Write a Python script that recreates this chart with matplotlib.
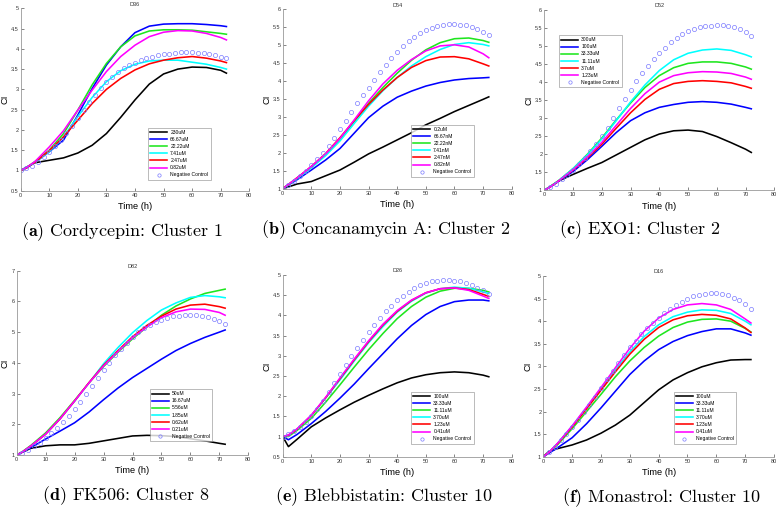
import matplotlib
matplotlib.use("Agg")
import matplotlib.pyplot as plt
from matplotlib.ticker import FormatStrFormatter, MultipleLocator

plt.rcParams['font.family'] = 'Liberation Sans'
plt.rcParams['mathtext.fontset'] = 'cm'

# sampling times (h) of the drug curves and of the negative control
hours = [0, 2, 5, 10, 15, 20, 25, 30, 35, 40, 45, 50, 55, 60, 65, 70, 72]
control_hours = list(range(0, 73, 2))

# (a) Cordycepin, D36
cordycepin_doses = ['230uM', '66.67uM', '22.22uM', '7.41uM', '2.47uM', '0.82uM']
cordycepin_ci = [
    [1.0, 1.08, 1.19, 1.25, 1.31, 1.43, 1.62, 1.91, 2.31, 2.74, 3.13, 3.38, 3.50, 3.55, 3.54, 3.47, 3.40],
    [1.0, 1.06, 1.20, 1.46, 1.75, 2.37, 3.02, 3.60, 4.05, 4.40, 4.56, 4.61, 4.62, 4.62, 4.60, 4.57, 4.55],
    [1.0, 1.07, 1.22, 1.50, 1.91, 2.49, 3.11, 3.64, 4.05, 4.32, 4.44, 4.47, 4.47, 4.46, 4.42, 4.38, 4.36],
    [1.0, 1.06, 1.20, 1.46, 1.83, 2.33, 2.80, 3.19, 3.46, 3.62, 3.70, 3.72, 3.72, 3.67, 3.62, 3.54, 3.50],
    [1.0, 1.06, 1.20, 1.49, 1.83, 2.24, 2.65, 3.00, 3.27, 3.48, 3.63, 3.72, 3.78, 3.81, 3.77, 3.70, 3.66],
    [1.0, 1.07, 1.22, 1.58, 1.98, 2.49, 2.98, 3.44, 3.81, 4.09, 4.30, 4.41, 4.45, 4.44, 4.38, 4.28, 4.22],
]
cordycepin_nc = [1.0, 1.05, 1.12, 1.22, 1.33, 1.45, 1.6, 1.75, 1.92, 2.1, 2.3, 2.49, 2.68, 2.86, 3.03, 3.18,
                 3.31, 3.42, 3.52, 3.6, 3.66, 3.72, 3.77, 3.81, 3.84, 3.87, 3.88, 3.9, 3.91, 3.91, 3.91, 3.9,
                 3.89, 3.87, 3.84, 3.81, 3.77]

# (b) Concanamycin A, D54
concanamycin_doses = ['0.2uM', '66.67nM', '22.22nM', '7.41nM', '2.47nM', '0.82nM']
concanamycin_ci = [
    [1.0, 1.05, 1.13, 1.20, 1.36, 1.52, 1.74, 1.97, 2.16, 2.36, 2.56, 2.78, 2.96, 3.15, 3.32, 3.49, 3.56],
    [1.0, 1.10, 1.25, 1.52, 1.80, 2.12, 2.55, 2.98, 3.30, 3.55, 3.72, 3.86, 3.96, 4.03, 4.07, 4.09, 4.10],
    [1.0, 1.11, 1.30, 1.60, 1.95, 2.38, 2.88, 3.38, 3.82, 4.22, 4.58, 4.87, 5.07, 5.18, 5.20, 5.13, 5.08],
    [1.0, 1.11, 1.28, 1.58, 1.92, 2.33, 2.82, 3.30, 3.73, 4.10, 4.42, 4.68, 4.88, 5.02, 5.07, 5.02, 4.98],
    [1.0, 1.12, 1.30, 1.62, 1.98, 2.42, 2.90, 3.35, 3.75, 4.10, 4.38, 4.57, 4.67, 4.68, 4.62, 4.48, 4.42],
    [1.0, 1.12, 1.30, 1.62, 1.97, 2.40, 2.92, 3.45, 3.92, 4.30, 4.60, 4.84, 4.98, 5.01, 4.95, 4.76, 4.65],
]
concanamycin_nc = [1.0, 1.1, 1.22, 1.35, 1.5, 1.65, 1.82, 2.0, 2.2, 2.42, 2.65, 2.9, 3.14, 3.38, 3.6, 3.82,
                   4.04, 4.25, 4.45, 4.64, 4.82, 4.97, 5.11, 5.23, 5.34, 5.42, 5.49, 5.54, 5.57, 5.58, 5.58,
                   5.57, 5.55, 5.51, 5.45, 5.38, 5.29]

# (c) EXO1, D52
exo1_doses = ['300uM', '100uM', '33.33uM', '11.11uM', '3.7uM', '1.23uM']
exo1_ci = [
    [1.0, 1.10, 1.26, 1.44, 1.61, 1.77, 1.98, 2.19, 2.40, 2.56, 2.65, 2.67, 2.63, 2.49, 2.32, 2.14, 2.05],
    [1.0, 1.09, 1.25, 1.52, 1.85, 2.22, 2.60, 2.93, 3.15, 3.30, 3.38, 3.44, 3.46, 3.44, 3.39, 3.30, 3.26],
    [1.0, 1.10, 1.27, 1.60, 2.00, 2.45, 2.95, 3.42, 3.85, 4.18, 4.40, 4.52, 4.56, 4.56, 4.52, 4.42, 4.36],
    [1.0, 1.10, 1.27, 1.60, 1.98, 2.42, 2.93, 3.45, 3.92, 4.32, 4.62, 4.80, 4.89, 4.92, 4.88, 4.76, 4.70],
    [1.0, 1.09, 1.26, 1.56, 1.90, 2.28, 2.72, 3.15, 3.52, 3.80, 3.96, 4.02, 4.04, 4.02, 3.98, 3.88, 3.83],
    [1.0, 1.09, 1.26, 1.57, 1.93, 2.33, 2.80, 3.27, 3.68, 4.00, 4.18, 4.26, 4.29, 4.28, 4.24, 4.14, 4.08],
]
exo1_nc = [1.0, 1.08, 1.18, 1.3, 1.43, 1.57, 1.73, 1.9, 2.08, 2.28, 2.5, 2.74, 3.0, 3.27, 3.53, 3.78, 4.02,
           4.24, 4.45, 4.64, 4.81, 4.96, 5.1, 5.22, 5.33, 5.42, 5.48, 5.52, 5.55, 5.57, 5.58, 5.58, 5.56,
           5.52, 5.46, 5.38, 5.28]

# (d) FK506, D82
fk506_doses = ['50uM', '16.67uM', '5.56uM', '1.85uM', '0.62uM', '0.21uM']
fk506_ci = [
    [1.0, 1.10, 1.22, 1.30, 1.33, 1.33, 1.38, 1.46, 1.54, 1.62, 1.64, 1.63, 1.60, 1.53, 1.46, 1.38, 1.35],
    [1.0, 1.09, 1.25, 1.52, 1.78, 2.05, 2.40, 2.80, 3.18, 3.52, 3.82, 4.12, 4.40, 4.63, 4.83, 5.00, 5.07],
    [1.0, 1.11, 1.32, 1.72, 2.22, 2.78, 3.35, 3.88, 4.35, 4.78, 5.17, 5.55, 5.85, 6.08, 6.26, 6.36, 6.40],
    [1.0, 1.10, 1.30, 1.68, 2.18, 2.75, 3.35, 3.97, 4.50, 4.98, 5.38, 5.72, 5.95, 6.13, 6.19, 6.15, 6.12],
    [1.0, 1.10, 1.30, 1.68, 2.18, 2.76, 3.36, 3.92, 4.40, 4.85, 5.22, 5.52, 5.75, 5.88, 5.91, 5.83, 5.78],
    [1.0, 1.10, 1.30, 1.68, 2.18, 2.76, 3.35, 3.90, 4.37, 4.82, 5.17, 5.47, 5.66, 5.75, 5.74, 5.64, 5.55],
]
fk506_nc = [1.0, 1.08, 1.17, 1.28, 1.4, 1.55, 1.7, 1.88, 2.07, 2.28, 2.5, 2.73, 2.98, 3.24, 3.5, 3.76, 4.0,
            4.24, 4.46, 4.66, 4.84, 4.99, 5.12, 5.24, 5.33, 5.41, 5.47, 5.51, 5.54, 5.56, 5.57, 5.56, 5.54,
            5.5, 5.44, 5.37, 5.27]

# (e) Blebbistatin, D26
blebbistatin_doses = ['100uM', '33.33uM', '11.11uM', '3.70uM', '1.23uM', '0.41uM']
blebbistatin_ci = [
    [1.0, 0.75, 0.93, 1.24, 1.46, 1.66, 1.85, 2.02, 2.18, 2.33, 2.45, 2.53, 2.58, 2.60, 2.58, 2.52, 2.48],
    [1.0, 0.92, 1.05, 1.32, 1.62, 1.95, 2.30, 2.68, 3.05, 3.42, 3.75, 4.02, 4.22, 4.34, 4.38, 4.38, 4.36],
    [1.0, 1.00, 1.15, 1.45, 1.85, 2.28, 2.72, 3.15, 3.55, 3.92, 4.22, 4.45, 4.60, 4.67, 4.67, 4.62, 4.58],
    [1.0, 1.03, 1.18, 1.52, 1.95, 2.40, 2.87, 3.32, 3.72, 4.08, 4.35, 4.55, 4.66, 4.70, 4.67, 4.58, 4.54],
    [1.0, 1.03, 1.18, 1.52, 1.96, 2.43, 2.90, 3.35, 3.76, 4.10, 4.37, 4.56, 4.66, 4.68, 4.64, 4.52, 4.47],
    [1.0, 1.04, 1.19, 1.53, 1.97, 2.45, 2.92, 3.37, 3.78, 4.12, 4.38, 4.56, 4.66, 4.68, 4.62, 4.48, 4.42],
]
blebbistatin_nc = [1.0, 1.06, 1.14, 1.24, 1.36, 1.5, 1.68, 1.88, 2.1, 2.33, 2.56, 2.78, 3.0, 3.2, 3.4, 3.59,
                   3.77, 3.94, 4.1, 4.24, 4.37, 4.49, 4.59, 4.68, 4.75, 4.8, 4.84, 4.86, 4.87, 4.87, 4.86,
                   4.84, 4.8, 4.75, 4.69, 4.62, 4.53]

# (f) Monastrol, D16
monastrol_doses = ['100uM', '33.33uM', '11.11uM', '3.70uM', '1.23uM', '0.41uM']
monastrol_ci = [
    [1.0, 1.12, 1.18, 1.26, 1.37, 1.52, 1.70, 1.92, 2.20, 2.48, 2.70, 2.86, 2.99, 3.08, 3.14, 3.15, 3.15],
    [1.0, 1.08, 1.20, 1.42, 1.73, 2.08, 2.45, 2.82, 3.12, 3.37, 3.55, 3.68, 3.77, 3.83, 3.83, 3.74, 3.69],
    [1.0, 1.10, 1.27, 1.62, 2.00, 2.38, 2.77, 3.12, 3.42, 3.67, 3.86, 3.98, 4.04, 4.05, 4.00, 3.84, 3.76],
    [1.0, 1.10, 1.30, 1.68, 2.08, 2.50, 2.92, 3.32, 3.66, 3.92, 4.10, 4.20, 4.25, 4.24, 4.17, 4.00, 3.92],
    [1.0, 1.10, 1.29, 1.66, 2.06, 2.47, 2.88, 3.27, 3.60, 3.86, 4.03, 4.12, 4.15, 4.13, 4.05, 3.85, 3.75],
    [1.0, 1.10, 1.30, 1.68, 2.10, 2.53, 2.97, 3.40, 3.78, 4.07, 4.26, 4.36, 4.39, 4.36, 4.26, 4.05, 3.96],
]
monastrol_nc = [1.0, 1.1, 1.22, 1.36, 1.5, 1.66, 1.82, 1.98, 2.15, 2.33, 2.52, 2.71, 2.9, 3.08, 3.26, 3.42,
                3.57, 3.71, 3.84, 3.96, 4.07, 4.17, 4.26, 4.35, 4.43, 4.5, 4.55, 4.59, 4.61, 4.62, 4.62,
                4.6, 4.57, 4.52, 4.46, 4.38, 4.28]

titles = ['D36', 'D54', 'D52', 'D82', 'D26', 'D16']
captions = ['Cordycepin: Cluster 1', 'Concanamycin A: Cluster 2', 'EXO1: Cluster 2',
            'FK506: Cluster 8', 'Blebbistatin: Cluster 10', 'Monastrol: Cluster 10']
letters = ['a', 'b', 'c', 'd', 'e', 'f']

colors = ['#000000', '#0000ff', '#1ee61e', '#00ffff', '#ff0000', '#ff00ff']
W, H = 777, 508

# layout in pixels: axes (left, top, right, bottom), y range, y step, legend (left, top), caption centre
panels = [
    (cordycepin_ci, cordycepin_nc, cordycepin_doses, (20.7, 8.3, 249.3, 190.7), (0.5, 5), 0.5, (148, 127.5), (122, 231.5)),
    (concanamycin_ci, concanamycin_nc, concanamycin_doses, (282.7, 9.3, 511.7, 188.7), (1, 6), 0.5, (411, 124.5), (386, 230)),
    (exo1_ci, exo1_nc, exo1_doses, (544.3, 10, 774.3, 190.3), (1, 6), 0.5, (559, 35), (640, 230)),
    (fk506_ci, fk506_nc, fk506_doses, (16.7, 270.7, 248.3, 455), (1, 7), 1, (149.5, 389), (125.5, 496)),
    (blebbistatin_ci, blebbistatin_nc, blebbistatin_doses, (282.7, 275, 511.7, 456.7), (0.5, 5), 0.5, (411, 391.5), (384, 497)),
    (monastrol_ci, monastrol_nc, monastrol_doses, (543.3, 276, 774, 456.7), (1, 5), 0.5, (673.5, 391.5), (662, 498)),
]

fig = plt.figure(figsize=(W / 100, H / 100), dpi=100)

for i, (curves, nc, doses, box, ylim, ystep, leg, cap) in enumerate(panels):
    l, t, r, b = box
    ax = fig.add_axes([l / W, 1 - b / H, (r - l) / W, (b - t) / H])
    for values, dose, c in zip(curves, doses, colors):
        ax.plot(hours, values, color=c, lw=1.15, label=dose)
    ax.plot(control_hours, nc, 'o', ms=3.0, mfc='none', mec='#7b7bff', mew=0.5,
            label='Negative Control')

    ax.set_xlim(0, 80)
    ax.set_ylim(*ylim)
    ax.xaxis.set_major_locator(MultipleLocator(10))
    ax.yaxis.set_major_locator(MultipleLocator(ystep))
    ax.xaxis.set_major_formatter(FormatStrFormatter('%g'))
    ax.yaxis.set_major_formatter(FormatStrFormatter('%g'))
    ax.tick_params(direction='in', length=2, width=0.5, labelsize=4, pad=1.5, colors='#555555',
                   labelcolor='#333333')
    for side in ('top', 'right'):
        ax.spines[side].set_visible(False)
    for side in ('left', 'bottom'):
        ax.spines[side].set_color('#999999')
        ax.spines[side].set_linewidth(0.6)

    ax.set_title(titles[i], fontsize=4, pad=2, color='#333333')
    ax.set_xlabel('Time (h)', fontsize=6.7, labelpad=3)
    ax.set_ylabel('CI', fontsize=6.7, labelpad=1)

    lg = ax.legend(loc='upper left', bbox_to_anchor=(leg[0] / W, 1 - leg[1] / H),
                   bbox_transform=fig.transFigure, fontsize=3.6, frameon=True, fancybox=False,
                   edgecolor='#888888', handlelength=3.4, handletextpad=0.6, labelspacing=0.42,
                   borderpad=0.45, borderaxespad=0, markerscale=0.8)
    lg.get_frame().set_linewidth(0.5)

    fig.text(cap[0] / W, 1 - cap[1] / H, r'$\mathbf{(%s)}$ %s' % (letters[i], captions[i]),
             ha='center', va='center', fontfamily='cmr10', fontsize=13)

fig.savefig('out.png', dpi=100)
